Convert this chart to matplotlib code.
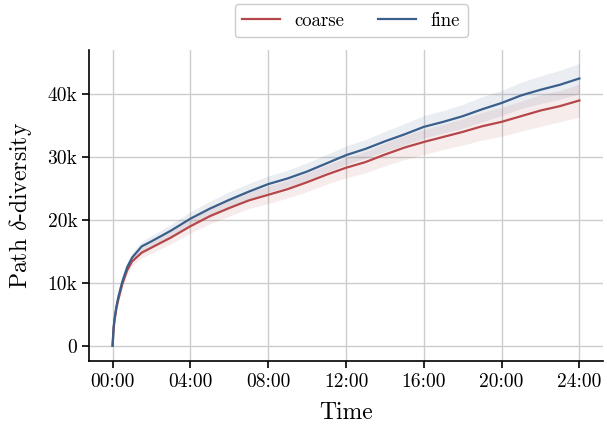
import numpy as np
import matplotlib
matplotlib.use("Agg")
import matplotlib.pyplot as plt
from matplotlib.ticker import FuncFormatter, MultipleLocator

# --- DATA (hours, thousands) ---
hours = [0, 0.05, 0.1, 0.2, 0.3, 0.5, 0.75, 1, 1.5, 2, 3, 4, 5, 6, 7, 8, 9, 10,
         11, 12, 13, 14, 15, 16, 17, 18, 19, 20, 21, 22, 23, 24]
fine = [0, 2.8, 4.3, 6.3, 7.8, 10.2, 12.5, 14.0, 15.8, 16.6, 18.3, 20.2, 21.8,
        23.2, 24.5, 25.7, 26.6, 27.7, 29.0, 30.3, 31.3, 32.5, 33.6, 34.8, 35.6,
        36.5, 37.6, 38.6, 39.8, 40.7, 41.5, 42.5]
coarse = [0, 2.6, 4.0, 6.0, 7.4, 9.8, 12.0, 13.4, 14.8, 15.6, 17.2, 19.0, 20.6,
          21.9, 23.1, 24.0, 24.9, 26.0, 27.2, 28.3, 29.2, 30.4, 31.5, 32.4, 33.2,
          34.0, 34.9, 35.6, 36.5, 37.4, 38.1, 39.0]
fine_sd = [0, 0.1, 0.2, 0.3, 0.4, 0.5, 0.6, 0.7, 0.8, 0.9, 1.0, 1.1, 1.2, 1.3,
           1.3, 1.3, 1.3, 1.4, 1.4, 1.5, 1.5, 1.6, 1.7, 1.8, 1.8, 1.9, 2.0, 2.0,
           2.1, 2.2, 2.3, 2.4]
coarse_sd = [0, 0.1, 0.2, 0.3, 0.4, 0.5, 0.6, 0.7, 0.8, 0.9, 1.0, 1.1, 1.2, 1.3,
             1.3, 1.4, 1.4, 1.5, 1.5, 1.6, 1.7, 1.8, 1.9, 2.0, 2.0, 2.1, 2.2, 2.3,
             2.4, 2.5, 2.5, 2.6]

plt.rcParams["font.family"] = ["cmr10"]
plt.rcParams["mathtext.fontset"] = "cm"
plt.rcParams["axes.formatter.use_mathtext"] = True

t = np.array(hours)
c_red = "#b5474b"
c_blue = "#3a5f8b"

fig = plt.figure(figsize=(6.07, 4.25), dpi=100)
ax = fig.add_axes([0.147, 0.151, 0.846, 0.731])

for y, sd, col, lab in [(coarse, coarse_sd, c_red, "coarse"), (fine, fine_sd, c_blue, "fine")]:
    y = np.array(y) * 1000
    sd = np.array(sd) * 1000
    ax.fill_between(t, y - sd, y + sd, color=col, alpha=0.1, lw=0)
    ax.plot(t, y, color=col, lw=1.6, label=lab)

ax.set_xlim(-1.2, 25.2)
ax.set_ylim(-2400, 47000)
ax.xaxis.set_major_locator(MultipleLocator(4))
ax.xaxis.set_major_formatter(FuncFormatter(lambda v, p: "%02d:00" % int(round(v))))
ax.yaxis.set_major_locator(MultipleLocator(10000))
ax.yaxis.set_major_formatter(FuncFormatter(lambda v, p: "0" if v == 0 else "%dk" % int(round(v / 1000))))

ax.grid(True, color="#cccccc", lw=1.0)
ax.set_axisbelow(True)
for s in ["top", "right"]:
    ax.spines[s].set_visible(False)
ax.spines["left"].set_linewidth(1.2)
ax.spines["bottom"].set_linewidth(1.2)
ax.tick_params(axis="both", labelsize=14, length=5, width=1.2, direction="out")

ax.set_xlabel("Time", fontsize=17, labelpad=8)
ax.set_ylabel(r"Path $\delta$-diversity", fontsize=17, labelpad=10)

ax.legend(loc="upper center", bbox_to_anchor=(0.51, 1.178), ncol=2, fontsize=13.5,
          fancybox=True, framealpha=1, edgecolor="#cccccc", handlelength=2.0,
          columnspacing=1.8)

fig.savefig("out.png", dpi=100)
